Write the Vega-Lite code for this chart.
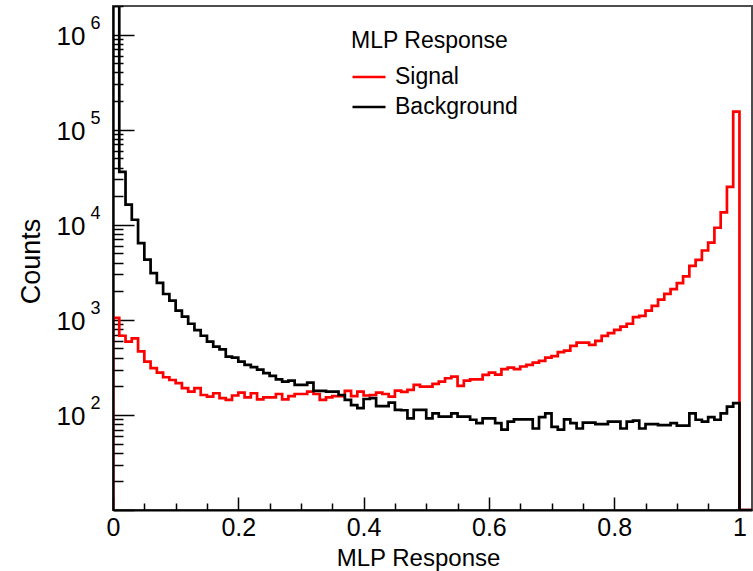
{
 "$schema": "https://vega.github.io/schema/vega-lite/v6.json",
 "width": 639, "height": 504,
 "autosize": {"type": "none"},
 "padding": {"left": 113, "top": 6, "right": 1, "bottom": 61},
 "background": "white",
 "config": {
  "view": {"stroke": "#4d4d4d", "strokeWidth": 2},
  "font": "Liberation Sans",
  "axis": {"domainColor": "black", "domainWidth": 2, "tickColor": "black", "tickWidth": 1.5, "labelColor": "black", "titleColor": "black", "grid": false, "labelFont": "Liberation Sans", "titleFont": "Liberation Sans", "titleFontWeight": "normal", "zindex": 1}
 },
 "data": {"values": [
  {"series":"Signal","x":0,"count":0,"order":0},
  {"series":"Signal","x":0.00,"count":1050,"order":1},{"series":"Signal","x":0.01,"count":680,"order":2},{"series":"Signal","x":0.02,"count":590,"order":3},{"series":"Signal","x":0.03,"count":640,"order":4},{"series":"Signal","x":0.04,"count":465,"order":5},
  {"series":"Signal","x":0.05,"count":364,"order":6},{"series":"Signal","x":0.06,"count":310,"order":7},{"series":"Signal","x":0.07,"count":279,"order":8},{"series":"Signal","x":0.08,"count":249,"order":9},{"series":"Signal","x":0.09,"count":233,"order":10},
  {"series":"Signal","x":0.10,"count":216,"order":11},{"series":"Signal","x":0.11,"count":191,"order":12},{"series":"Signal","x":0.12,"count":176,"order":13},{"series":"Signal","x":0.13,"count":191,"order":14},{"series":"Signal","x":0.14,"count":162,"order":15},
  {"series":"Signal","x":0.15,"count":156,"order":16},{"series":"Signal","x":0.16,"count":169,"order":17},{"series":"Signal","x":0.17,"count":150,"order":18},{"series":"Signal","x":0.18,"count":144,"order":19},{"series":"Signal","x":0.19,"count":160,"order":20},
  {"series":"Signal","x":0.20,"count":172,"order":21},{"series":"Signal","x":0.21,"count":153,"order":22},{"series":"Signal","x":0.22,"count":169,"order":23},{"series":"Signal","x":0.23,"count":146,"order":24},{"series":"Signal","x":0.24,"count":153,"order":25},
  {"series":"Signal","x":0.25,"count":153,"order":26},{"series":"Signal","x":0.26,"count":166,"order":27},{"series":"Signal","x":0.27,"count":146,"order":28},{"series":"Signal","x":0.28,"count":158,"order":29},{"series":"Signal","x":0.29,"count":166,"order":30},
  {"series":"Signal","x":0.30,"count":166,"order":31},{"series":"Signal","x":0.31,"count":176,"order":32},{"series":"Signal","x":0.32,"count":166,"order":33},{"series":"Signal","x":0.33,"count":144,"order":34},{"series":"Signal","x":0.34,"count":153,"order":35},
  {"series":"Signal","x":0.35,"count":158,"order":36},{"series":"Signal","x":0.36,"count":158,"order":37},{"series":"Signal","x":0.37,"count":179,"order":38},{"series":"Signal","x":0.38,"count":158,"order":39},{"series":"Signal","x":0.39,"count":176,"order":40},
  {"series":"Signal","x":0.40,"count":160,"order":41},{"series":"Signal","x":0.41,"count":162,"order":42},{"series":"Signal","x":0.42,"count":172,"order":43},{"series":"Signal","x":0.43,"count":166,"order":44},{"series":"Signal","x":0.44,"count":156,"order":45},
  {"series":"Signal","x":0.45,"count":180,"order":46},{"series":"Signal","x":0.46,"count":175,"order":47},{"series":"Signal","x":0.47,"count":183,"order":48},{"series":"Signal","x":0.48,"count":207,"order":49},{"series":"Signal","x":0.49,"count":198,"order":50},
  {"series":"Signal","x":0.50,"count":198,"order":51},{"series":"Signal","x":0.51,"count":212,"order":52},{"series":"Signal","x":0.52,"count":224,"order":53},{"series":"Signal","x":0.53,"count":243,"order":54},{"series":"Signal","x":0.54,"count":253,"order":55},
  {"series":"Signal","x":0.55,"count":202,"order":56},{"series":"Signal","x":0.56,"count":230,"order":57},{"series":"Signal","x":0.57,"count":237,"order":58},{"series":"Signal","x":0.58,"count":237,"order":59},{"series":"Signal","x":0.59,"count":264,"order":60},
  {"series":"Signal","x":0.60,"count":278,"order":61},{"series":"Signal","x":0.61,"count":265,"order":62},{"series":"Signal","x":0.62,"count":303,"order":63},{"series":"Signal","x":0.63,"count":315,"order":64},{"series":"Signal","x":0.64,"count":303,"order":65},
  {"series":"Signal","x":0.65,"count":323,"order":66},{"series":"Signal","x":0.66,"count":336,"order":67},{"series":"Signal","x":0.67,"count":355,"order":68},{"series":"Signal","x":0.68,"count":370,"order":69},{"series":"Signal","x":0.69,"count":401,"order":70},
  {"series":"Signal","x":0.70,"count":415,"order":71},{"series":"Signal","x":0.71,"count":457,"order":72},{"series":"Signal","x":0.72,"count":475,"order":73},{"series":"Signal","x":0.73,"count":532,"order":74},{"series":"Signal","x":0.74,"count":576,"order":75},
  {"series":"Signal","x":0.75,"count":576,"order":76},{"series":"Signal","x":0.76,"count":545,"order":77},{"series":"Signal","x":0.77,"count":601,"order":78},{"series":"Signal","x":0.78,"count":679,"order":79},{"series":"Signal","x":0.79,"count":724,"order":80},
  {"series":"Signal","x":0.80,"count":784,"order":81},{"series":"Signal","x":0.81,"count":850,"order":82},{"series":"Signal","x":0.82,"count":910,"order":83},{"series":"Signal","x":0.83,"count":1070,"order":84},{"series":"Signal","x":0.84,"count":1100,"order":85},
  {"series":"Signal","x":0.85,"count":1250,"order":86},{"series":"Signal","x":0.86,"count":1400,"order":87},{"series":"Signal","x":0.87,"count":1630,"order":88},{"series":"Signal","x":0.88,"count":1880,"order":89},{"series":"Signal","x":0.89,"count":2100,"order":90},
  {"series":"Signal","x":0.90,"count":2430,"order":91},{"series":"Signal","x":0.91,"count":2860,"order":92},{"series":"Signal","x":0.92,"count":3700,"order":93},{"series":"Signal","x":0.93,"count":4270,"order":94},{"series":"Signal","x":0.94,"count":5360,"order":95},
  {"series":"Signal","x":0.95,"count":6500,"order":96},{"series":"Signal","x":0.96,"count":9300,"order":97},{"series":"Signal","x":0.97,"count":13500,"order":98},{"series":"Signal","x":0.98,"count":25000,"order":99},{"series":"Signal","x":0.99,"count":155000,"order":100},
  {"series":"Signal","x":1.00,"count":0,"order":101},{"series":"Signal","x":1.02,"count":0,"order":102},
  {"series":"Background","x":0,"count":0,"order":0},
  {"series":"Background","x":0.00,"count":2000000,"order":1},{"series":"Background","x":0.01,"count":36000,"order":2},{"series":"Background","x":0.02,"count":16300,"order":3},{"series":"Background","x":0.03,"count":11300,"order":4},{"series":"Background","x":0.04,"count":6400,"order":5},
  {"series":"Background","x":0.05,"count":4300,"order":6},{"series":"Background","x":0.06,"count":3100,"order":7},{"series":"Background","x":0.07,"count":2450,"order":8},{"series":"Background","x":0.08,"count":1870,"order":9},{"series":"Background","x":0.09,"count":1590,"order":10},
  {"series":"Background","x":0.10,"count":1250,"order":11},{"series":"Background","x":0.11,"count":1080,"order":12},{"series":"Background","x":0.12,"count":910,"order":13},{"series":"Background","x":0.13,"count":780,"order":14},{"series":"Background","x":0.14,"count":680,"order":15},
  {"series":"Background","x":0.15,"count":590,"order":16},{"series":"Background","x":0.16,"count":524,"order":17},{"series":"Background","x":0.17,"count":490,"order":18},{"series":"Background","x":0.18,"count":410,"order":19},{"series":"Background","x":0.19,"count":400,"order":20},
  {"series":"Background","x":0.20,"count":364,"order":21},{"series":"Background","x":0.21,"count":336,"order":22},{"series":"Background","x":0.22,"count":318,"order":23},{"series":"Background","x":0.23,"count":300,"order":24},{"series":"Background","x":0.24,"count":275,"order":25},
  {"series":"Background","x":0.25,"count":257,"order":26},{"series":"Background","x":0.26,"count":237,"order":27},{"series":"Background","x":0.27,"count":224,"order":28},{"series":"Background","x":0.28,"count":230,"order":29},{"series":"Background","x":0.29,"count":207,"order":30},
  {"series":"Background","x":0.30,"count":207,"order":31},{"series":"Background","x":0.31,"count":219,"order":32},{"series":"Background","x":0.32,"count":179,"order":33},{"series":"Background","x":0.33,"count":179,"order":34},{"series":"Background","x":0.34,"count":176,"order":35},
  {"series":"Background","x":0.35,"count":176,"order":36},{"series":"Background","x":0.36,"count":162,"order":37},{"series":"Background","x":0.37,"count":144,"order":38},{"series":"Background","x":0.38,"count":127,"order":39},{"series":"Background","x":0.39,"count":118,"order":40},
  {"series":"Background","x":0.40,"count":147,"order":41},{"series":"Background","x":0.41,"count":150,"order":42},{"series":"Background","x":0.42,"count":124,"order":43},{"series":"Background","x":0.43,"count":124,"order":44},{"series":"Background","x":0.44,"count":135,"order":45},
  {"series":"Background","x":0.45,"count":113,"order":46},{"series":"Background","x":0.46,"count":112,"order":47},{"series":"Background","x":0.47,"count":92,"order":48},{"series":"Background","x":0.48,"count":113,"order":49},{"series":"Background","x":0.49,"count":113,"order":50},
  {"series":"Background","x":0.50,"count":92,"order":51},{"series":"Background","x":0.51,"count":104,"order":52},{"series":"Background","x":0.52,"count":96,"order":53},{"series":"Background","x":0.53,"count":96,"order":54},{"series":"Background","x":0.54,"count":104,"order":55},
  {"series":"Background","x":0.55,"count":96,"order":56},{"series":"Background","x":0.56,"count":96,"order":57},{"series":"Background","x":0.57,"count":89,"order":58},{"series":"Background","x":0.58,"count":82,"order":59},{"series":"Background","x":0.59,"count":92,"order":60},
  {"series":"Background","x":0.60,"count":92,"order":61},{"series":"Background","x":0.61,"count":82,"order":62},{"series":"Background","x":0.62,"count":70,"order":63},{"series":"Background","x":0.63,"count":85,"order":64},{"series":"Background","x":0.64,"count":90,"order":65},
  {"series":"Background","x":0.65,"count":90,"order":66},{"series":"Background","x":0.66,"count":90,"order":67},{"series":"Background","x":0.67,"count":72,"order":68},{"series":"Background","x":0.68,"count":95,"order":69},{"series":"Background","x":0.69,"count":104,"order":70},
  {"series":"Background","x":0.70,"count":75,"order":71},{"series":"Background","x":0.71,"count":70,"order":72},{"series":"Background","x":0.72,"count":90,"order":73},{"series":"Background","x":0.73,"count":82,"order":74},{"series":"Background","x":0.74,"count":72,"order":75},
  {"series":"Background","x":0.75,"count":83,"order":76},{"series":"Background","x":0.76,"count":83,"order":77},{"series":"Background","x":0.77,"count":80,"order":78},{"series":"Background","x":0.78,"count":80,"order":79},{"series":"Background","x":0.79,"count":85,"order":80},
  {"series":"Background","x":0.80,"count":85,"order":81},{"series":"Background","x":0.81,"count":72,"order":82},{"series":"Background","x":0.82,"count":85,"order":83},{"series":"Background","x":0.83,"count":87,"order":84},{"series":"Background","x":0.84,"count":72,"order":85},
  {"series":"Background","x":0.85,"count":80,"order":86},{"series":"Background","x":0.86,"count":80,"order":87},{"series":"Background","x":0.87,"count":78,"order":88},{"series":"Background","x":0.88,"count":78,"order":89},{"series":"Background","x":0.89,"count":82,"order":90},
  {"series":"Background","x":0.90,"count":77,"order":91},{"series":"Background","x":0.91,"count":77,"order":92},{"series":"Background","x":0.92,"count":104,"order":93},{"series":"Background","x":0.93,"count":89,"order":94},{"series":"Background","x":0.94,"count":85,"order":95},
  {"series":"Background","x":0.95,"count":95,"order":96},{"series":"Background","x":0.96,"count":89,"order":97},{"series":"Background","x":0.97,"count":104,"order":98},{"series":"Background","x":0.98,"count":122,"order":99},{"series":"Background","x":0.99,"count":133,"order":100},
  {"series":"Background","x":1.00,"count":0,"order":101},{"series":"Background","x":1.02,"count":0,"order":102}
 ]},
 "encoding": {
  "x": {"field": "x", "type": "quantitative",
   "scale": {"domain": [0, 1.02], "nice": false, "zero": false},
   "axis": {"title": "MLP Response", "titleFontSize": 24, "titleX": 305, "titleY": 55, "titleAlign": "center", "titleBaseline": "alphabetic",
    "values": [0,0.05,0.1,0.15,0.2,0.25,0.3,0.35,0.4,0.45,0.5,0.55,0.6,0.65,0.7,0.75,0.8,0.85,0.9,0.95,1],
    "labelExpr": "abs(datum.value*5 - round(datum.value*5)) < 0.001 ? format(datum.value, '~g') : ''",
    "labelFontSize": 25, "labelPadding": 18, "labelFlush": false,
    "tickSize": {"condition": {"test": "abs(datum.value*5 - round(datum.value*5)) < 0.001", "value": -13}, "value": -7}}},
  "color": {"field": "series", "type": "nominal",
   "scale": {"domain": ["Signal", "Background"], "range": ["#ff0000", "#000000"]},
   "legend": {"orient": "none", "legendX": 238, "legendY": 24, "title": "MLP Response", "titleFontSize": 23, "titleFontWeight": "normal", "titleColor": "black", "titleFont": "Liberation Sans", "labelFont": "Liberation Sans", "labelFontSize": 23, "labelColor": "black", "symbolType": "stroke", "symbolSize": 1089, "symbolStrokeWidth": 2.5, "labelOffset": 8, "titlePadding": 6, "rowPadding": 0, "padding": 0}},
  "order": {"field": "order", "type": "quantitative"}
 },
 "resolve": {"axis": {"y": "independent"}},
 "layer": [
  {"transform": [{"filter": "datum.series == 'Signal'"}],
   "mark": {"type": "line", "interpolate": "step-after", "strokeWidth": 2.7, "invalid": null, "clip": true},
   "encoding": {"y": {"field": "count", "type": "quantitative",
    "scale": {"type": "log", "domain": [10, 2000000], "nice": false, "clamp": true},
    "axis": {"title": "Counts", "titleFontSize": 27, "titleX": -82, "titleY": 255, "titleAngle": 270, "titleAlign": "center", "titleBaseline": "middle",
     "values": [10,20,30,40,50,60,70,80,90,100,200,300,400,500,600,700,800,900,1000,2000,3000,4000,5000,6000,7000,8000,9000,10000,20000,30000,40000,50000,60000,70000,80000,90000,100000,200000,300000,400000,500000,600000,700000,800000,900000,1000000,2000000],
     "labelExpr": "datum.value >= 100 && abs(log(datum.value)/LN10 - round(log(datum.value)/LN10)) < 0.001 ? '10' : ''",
     "labelFontSize": 26, "labelPadding": 49, "labelFlush": false, "labelOffset": 2,
     "tickSize": {"condition": {"test": "abs(log(datum.value)/LN10 - round(log(datum.value)/LN10)) < 0.001", "value": -21}, "value": -10}}}}},
  {"transform": [{"filter": "datum.series == 'Background'"}],
   "mark": {"type": "line", "interpolate": "step-after", "strokeWidth": 2.7, "invalid": null, "clip": true},
   "encoding": {"y": {"field": "count", "type": "quantitative",
    "scale": {"type": "log", "domain": [10, 2000000], "nice": false, "clamp": true},
    "axis": null}}},
  {"transform": [{"filter": "datum.series == 'none'"}],
   "mark": {"type": "line", "invalid": null},
   "encoding": {"y": {"field": "count", "type": "quantitative",
    "scale": {"type": "log", "domain": [10, 2000000], "nice": false, "clamp": true},
    "axis": {"orient": "left", "title": null, "domain": false, "ticks": false, "values": [100,1000,10000,100000,1000000],
     "labelExpr": "'' + round(log(datum.value)/LN10)", "labelFontSize": 18, "labelPadding": 13, "labelOffset": -11, "labelFlush": false}}}}
 ]
}
